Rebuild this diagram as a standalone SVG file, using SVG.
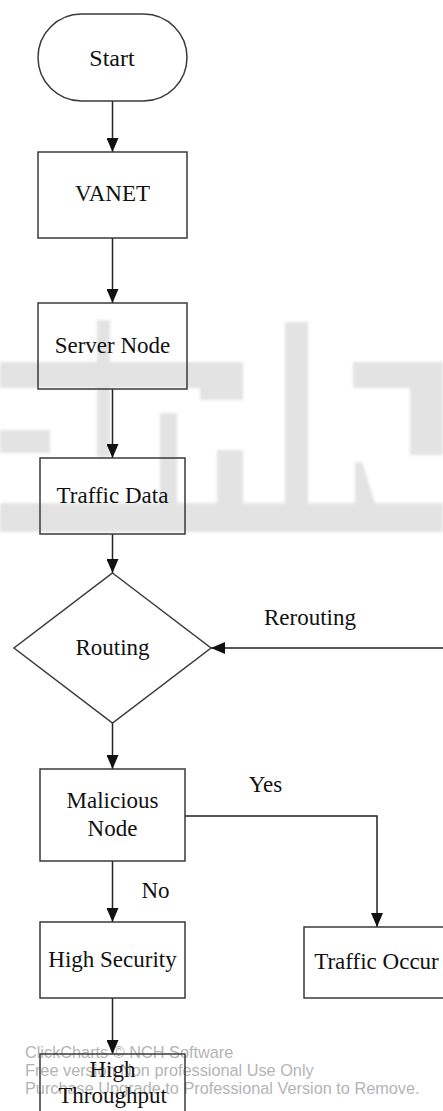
<svg xmlns="http://www.w3.org/2000/svg" width="443" height="1111" viewBox="0 0 443 1111">
<style>
.box{fill:none;stroke:#3a3a3a;stroke-width:1.5}
.lbl{font-family:"Liberation Serif","Times New Roman",serif;font-size:23px;fill:#111;text-anchor:middle}
.con{fill:none;stroke:#222;stroke-width:1.5}
.wm{fill:#e3e3e3}
.wt{font-family:"Liberation Sans",Arial,sans-serif;font-size:16.3px;fill:#b4b4b4}
</style>
<defs>
<marker id="ah" viewBox="0 0 14 12" refX="14" refY="6" markerWidth="14" markerHeight="12" markerUnits="userSpaceOnUse" orient="auto">
<path d="M0,0 L14,6 L0,12 Z" fill="#111"/>
</marker>
<filter id="soft" x="-5%" y="-5%" width="110%" height="110%">
<feGaussianBlur stdDeviation="1.8"/>
</filter>
</defs>
<rect width="443" height="1111" fill="#fff"/>
<g id="watermark-logo" filter="url(#soft)">
<rect class="wm" x="0" y="362" width="243" height="26"/>
<rect class="wm" x="200" y="362" width="43" height="38"/>
<rect class="wm" x="97" y="320" width="13" height="137"/>
<rect class="wm" x="0" y="430" width="50" height="23"/>
<rect class="wm" x="160" y="413" width="17" height="90"/>
<rect class="wm" x="217" y="450" width="26" height="53"/>
<rect class="wm" x="285" y="322" width="23" height="181"/>
<rect class="wm" x="353" y="362" width="90" height="26"/>
<rect class="wm" x="410" y="362" width="33" height="93"/>
<polygon class="wm" points="355,462 362,462 375,503 355,503"/>
<rect class="wm" x="0" y="503" width="443" height="29"/>
</g>
<g id="watermark-text">
<text class="wt" x="25" y="1058">ClickCharts © NCH Software</text>
<text class="wt" x="25" y="1076">Free version Non professional Use Only</text>
<text class="wt" x="25" y="1094">Purchase Upgrade to Professional Version to Remove.</text>
</g>
<g id="connectors">
<line class="con" x1="112.5" y1="101" x2="112.5" y2="152" marker-end="url(#ah)"/>
<line class="con" x1="112.5" y1="238" x2="112.5" y2="303" marker-end="url(#ah)"/>
<line class="con" x1="112.5" y1="389" x2="112.5" y2="458" marker-end="url(#ah)"/>
<line class="con" x1="112.5" y1="534" x2="112.5" y2="573" marker-end="url(#ah)"/>
<line class="con" x1="443" y1="648" x2="211" y2="648" marker-end="url(#ah)"/>
<line class="con" x1="112.5" y1="723" x2="112.5" y2="769" marker-end="url(#ah)"/>
<polyline class="con" points="185,816 377,816 377,927" marker-end="url(#ah)"/>
<line class="con" x1="112.5" y1="861" x2="112.5" y2="922" marker-end="url(#ah)"/>
<line class="con" x1="112.5" y1="998" x2="112.5" y2="1054" marker-end="url(#ah)"/>
<text class="lbl" x="310" y="625">Rerouting</text>
<text class="lbl" x="265.5" y="792">Yes</text>
<text class="lbl" x="155.5" y="898">No</text>
</g>
<g id="start">
<rect class="box" x="38" y="14" width="149" height="87" rx="43.5"/>
<text class="lbl" x="112" y="66" style="font-size:24px">Start</text>
</g>
<g id="vanet">
<rect class="box" x="38" y="152" width="149" height="86"/>
<text class="lbl" x="112.5" y="201">VANET</text>
</g>
<g id="server-node">
<rect class="box" x="38" y="303" width="149" height="86"/>
<text class="lbl" x="112.5" y="353">Server Node</text>
</g>
<g id="traffic-data">
<rect class="box" x="40" y="458" width="145" height="76"/>
<text class="lbl" x="112.5" y="503">Traffic Data</text>
</g>
<g id="routing">
<polygon class="box" points="112.5,573 211,648 112.5,723 14,648"/>
<text class="lbl" x="112.5" y="655">Routing</text>
</g>
<g id="malicious-node">
<rect class="box" x="40" y="769" width="145" height="92"/>
<text class="lbl" x="112.5" y="808">Malicious</text>
<text class="lbl" x="112.5" y="836">Node</text>
</g>
<g id="high-security">
<rect class="box" x="40" y="922" width="145" height="76"/>
<text class="lbl" x="112.5" y="967">High Security</text>
</g>
<g id="traffic-occur">
<rect class="box" x="304" y="927" width="145" height="71"/>
<text class="lbl" x="376.5" y="969">Traffic Occur</text>
</g>
<g id="high-throughput">
<rect class="box" x="40" y="1054" width="145" height="86"/>
<text class="lbl" x="112.5" y="1077">High</text>
<text class="lbl" x="112.5" y="1103">Throughput</text>
</g>
</svg>
